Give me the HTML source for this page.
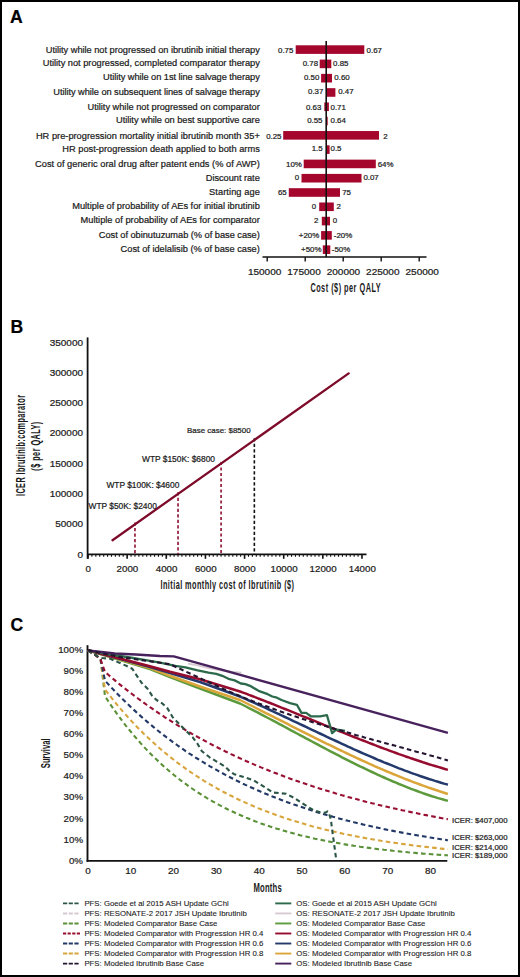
<!DOCTYPE html>
<html><head><meta charset="utf-8"><style>
html,body{margin:0;padding:0;background:#fff;}
body{width:520px;height:977px;overflow:hidden;}
svg{display:block;font-family:"Liberation Sans", sans-serif;}
text{stroke:#1a1a1a;stroke-width:0.22px;paint-order:stroke;}
</style></head><body>
<svg width="520" height="977" viewBox="0 0 520 977">
<rect x="0" y="0" width="520" height="977" fill="#fff"/>
<rect x="1" y="1" width="518" height="975" fill="none" stroke="#000" stroke-width="2"/>

<text x="10.0" y="23.4" font-size="17.6" font-weight="bold" fill="#000">A</text>
<text x="10.5" y="333.3" font-size="17.6" font-weight="bold" fill="#000">B</text>
<text x="10.5" y="630.7" font-size="17.6" font-weight="bold" fill="#000">C</text>
<rect x="295.7" y="45.30" width="68.60" height="8.6" fill="#a5062c"/>
<text x="259.8" y="53.00" font-size="9.25" fill="#1a1a1a" text-anchor="end" textLength="214.01" lengthAdjust="spacing">Utility while not progressed on ibrutinib initial therapy</text>
<text x="293.4" y="52.80" font-size="7.9" fill="#1a1a1a" text-anchor="end">0.75</text>
<text x="366.6" y="52.80" font-size="7.9" fill="#1a1a1a">0.67</text>
<rect x="319.7" y="59.59" width="11.60" height="8.6" fill="#a5062c"/>
<text x="259.8" y="65.95" font-size="9.25" fill="#1a1a1a" text-anchor="end" textLength="217.06" lengthAdjust="spacing">Utility not progressed, completed comparator therapy</text>
<text x="318.1" y="65.75" font-size="7.9" fill="#1a1a1a" text-anchor="end">0.78</text>
<text x="333.1" y="65.75" font-size="7.9" fill="#1a1a1a">0.85</text>
<rect x="321.1" y="73.88" width="10.90" height="8.6" fill="#a5062c"/>
<text x="259.8" y="79.85" font-size="9.25" fill="#1a1a1a" text-anchor="end" textLength="156.75" lengthAdjust="spacing">Utility while on 1st line salvage therapy</text>
<text x="319.3" y="79.65" font-size="7.9" fill="#1a1a1a" text-anchor="end">0.50</text>
<text x="334.3" y="79.65" font-size="7.9" fill="#1a1a1a">0.60</text>
<rect x="326.2" y="88.17" width="9.20" height="8.6" fill="#a5062c"/>
<text x="259.8" y="94.60" font-size="9.25" fill="#1a1a1a" text-anchor="end" textLength="206.46" lengthAdjust="spacing">Utility while on subsequent lines of salvage therapy</text>
<text x="323.4" y="94.40" font-size="7.9" fill="#1a1a1a" text-anchor="end">0.37</text>
<text x="338.2" y="94.40" font-size="7.9" fill="#1a1a1a">0.47</text>
<rect x="324.3" y="102.46" width="4.60" height="8.6" fill="#a5062c"/>
<text x="259.8" y="109.70" font-size="9.25" fill="#1a1a1a" text-anchor="end" textLength="172.33" lengthAdjust="spacing">Utility while not progressed on comparator</text>
<text x="321.3" y="109.50" font-size="7.9" fill="#1a1a1a" text-anchor="end">0.63</text>
<text x="330.5" y="109.50" font-size="7.9" fill="#1a1a1a">0.71</text>
<rect x="325.9" y="116.75" width="1.80" height="8.6" fill="#a5062c"/>
<text x="259.8" y="123.30" font-size="9.25" fill="#1a1a1a" text-anchor="end" textLength="143.68" lengthAdjust="spacing">Utility while on best supportive care</text>
<text x="322.5" y="123.10" font-size="7.9" fill="#1a1a1a" text-anchor="end">0.55</text>
<text x="330.5" y="123.10" font-size="7.9" fill="#1a1a1a">0.64</text>
<rect x="283.2" y="131.04" width="95.80" height="8.6" fill="#a5062c"/>
<text x="259.8" y="139.05" font-size="9.25" fill="#1a1a1a" text-anchor="end" textLength="223.87" lengthAdjust="spacing">HR pre-progression mortality initial ibrutinib month 35+</text>
<text x="281.5" y="138.85" font-size="7.9" fill="#1a1a1a" text-anchor="end">0.25</text>
<text x="383.2" y="138.85" font-size="7.9" fill="#1a1a1a">2</text>
<rect x="326.4" y="145.33" width="3.20" height="8.6" fill="#a5062c"/>
<text x="259.8" y="151.50" font-size="9.25" fill="#1a1a1a" text-anchor="end" textLength="197.52" lengthAdjust="spacing">HR post-progression death applied to both arms</text>
<text x="322.7" y="151.30" font-size="7.9" fill="#1a1a1a" text-anchor="end">1.5</text>
<text x="330.5" y="151.30" font-size="7.9" fill="#1a1a1a">0.5</text>
<rect x="303.7" y="159.62" width="72.10" height="8.6" fill="#a5062c"/>
<text x="259.8" y="167.25" font-size="9.25" fill="#1a1a1a" text-anchor="end" textLength="224.8" lengthAdjust="spacing">Cost of generic oral drug after patent ends (% of AWP)</text>
<text x="301.8" y="167.05" font-size="7.9" fill="#1a1a1a" text-anchor="end">10%</text>
<text x="377.7" y="167.05" font-size="7.9" fill="#1a1a1a">64%</text>
<rect x="301.5" y="173.91" width="60.00" height="8.6" fill="#a5062c"/>
<text x="259.8" y="180.50" font-size="9.25" fill="#1a1a1a" text-anchor="end" textLength="53.99" lengthAdjust="spacing">Discount rate</text>
<text x="299.1" y="180.30" font-size="7.9" fill="#1a1a1a" text-anchor="end">0</text>
<text x="363.4" y="180.30" font-size="7.9" fill="#1a1a1a">0.07</text>
<rect x="288.8" y="188.20" width="51.20" height="8.6" fill="#a5062c"/>
<text x="259.8" y="195.20" font-size="9.25" fill="#1a1a1a" text-anchor="end" textLength="50.69" lengthAdjust="spacing">Starting age</text>
<text x="286.7" y="195.00" font-size="7.9" fill="#1a1a1a" text-anchor="end">65</text>
<text x="342.2" y="195.00" font-size="7.9" fill="#1a1a1a">75</text>
<rect x="319.2" y="202.49" width="14.60" height="8.6" fill="#a5062c"/>
<text x="259.8" y="208.90" font-size="9.25" fill="#1a1a1a" text-anchor="end" textLength="187.56" lengthAdjust="spacing">Multiple of probability of AEs for initial ibrutinib</text>
<text x="316.2" y="208.70" font-size="7.9" fill="#1a1a1a" text-anchor="end">0</text>
<text x="336.6" y="208.70" font-size="7.9" fill="#1a1a1a">2</text>
<rect x="321.8" y="216.78" width="8.20" height="8.6" fill="#a5062c"/>
<text x="259.8" y="223.40" font-size="9.25" fill="#1a1a1a" text-anchor="end" textLength="179.21" lengthAdjust="spacing">Multiple of probability of AEs for comparator</text>
<text x="318.5" y="223.20" font-size="7.9" fill="#1a1a1a" text-anchor="end">2</text>
<text x="332.8" y="223.20" font-size="7.9" fill="#1a1a1a">0</text>
<rect x="321.1" y="231.07" width="10.70" height="8.6" fill="#a5062c"/>
<text x="259.8" y="238.10" font-size="9.25" fill="#1a1a1a" text-anchor="end" textLength="160.95" lengthAdjust="spacing">Cost of obinutuzumab (% of base case)</text>
<text x="319.2" y="237.90" font-size="7.9" fill="#1a1a1a" text-anchor="end">+20%</text>
<text x="333.8" y="237.90" font-size="7.9" fill="#1a1a1a">-20%</text>
<rect x="322.8" y="245.36" width="7.50" height="8.6" fill="#a5062c"/>
<text x="259.8" y="252.40" font-size="9.25" fill="#1a1a1a" text-anchor="end" textLength="139.22" lengthAdjust="spacing">Cost of idelalisib (% of base case)</text>
<text x="321.5" y="252.20" font-size="7.9" fill="#1a1a1a" text-anchor="end">+50%</text>
<text x="331.8" y="252.20" font-size="7.9" fill="#1a1a1a">-50%</text>
<line x1="326.2" y1="41" x2="326.2" y2="257" stroke="#111" stroke-width="1.6"/>
<line x1="262.5" y1="257" x2="426.5" y2="257" stroke="#111" stroke-width="1.7"/>
<line x1="267.2" y1="257" x2="267.2" y2="261.5" stroke="#111" stroke-width="1.4"/>
<text transform="translate(264.60,274.90) scale(1.08,1)" font-size="9.3" fill="#1a1a1a" text-anchor="middle">150000</text>
<line x1="305.2" y1="257" x2="305.2" y2="261.5" stroke="#111" stroke-width="1.4"/>
<text transform="translate(304.00,274.90) scale(1.08,1)" font-size="9.3" fill="#1a1a1a" text-anchor="middle">175000</text>
<line x1="343.2" y1="257" x2="343.2" y2="261.5" stroke="#111" stroke-width="1.4"/>
<text transform="translate(343.40,274.90) scale(1.08,1)" font-size="9.3" fill="#1a1a1a" text-anchor="middle">200000</text>
<line x1="381.2" y1="257" x2="381.2" y2="261.5" stroke="#111" stroke-width="1.4"/>
<text transform="translate(382.80,274.90) scale(1.08,1)" font-size="9.3" fill="#1a1a1a" text-anchor="middle">225000</text>
<line x1="419.2" y1="257" x2="419.2" y2="261.5" stroke="#111" stroke-width="1.4"/>
<text transform="translate(422.20,274.90) scale(1.08,1)" font-size="9.3" fill="#1a1a1a" text-anchor="middle">250000</text>
<text transform="translate(310.4,291.7) scale(0.6,1)" font-size="12.2" font-weight="bold" fill="#1a1a1a" text-anchor="start" style="stroke-width:0" textLength="117.00" lengthAdjust="spacing">Cost ($) per QALY</text>
<line x1="87.6" y1="337.4" x2="87.6" y2="558.8" stroke="#111" stroke-width="1.8"/>
<text transform="translate(83.00,557.60) scale(1.04,1)" font-size="9.6" fill="#1a1a1a" text-anchor="end">0</text>
<text transform="translate(83.00,527.30) scale(1.04,1)" font-size="9.6" fill="#1a1a1a" text-anchor="end">50000</text>
<text transform="translate(83.00,497.00) scale(1.04,1)" font-size="9.6" fill="#1a1a1a" text-anchor="end">100000</text>
<text transform="translate(83.00,466.70) scale(1.04,1)" font-size="9.6" fill="#1a1a1a" text-anchor="end">150000</text>
<text transform="translate(83.00,436.40) scale(1.04,1)" font-size="9.6" fill="#1a1a1a" text-anchor="end">200000</text>
<text transform="translate(83.00,406.10) scale(1.04,1)" font-size="9.6" fill="#1a1a1a" text-anchor="end">250000</text>
<text transform="translate(83.00,375.80) scale(1.04,1)" font-size="9.6" fill="#1a1a1a" text-anchor="end">300000</text>
<text transform="translate(83.00,345.50) scale(1.04,1)" font-size="9.6" fill="#1a1a1a" text-anchor="end">350000</text>
<line x1="87" y1="554.4" x2="366.5" y2="554.4" stroke="#111" stroke-width="1.8"/>
<line x1="88.00" y1="554" x2="88.00" y2="558.8" stroke="#111" stroke-width="1.6"/>
<text transform="translate(88.30,571.80) scale(1.06,1)" font-size="9.2" fill="#1a1a1a" text-anchor="middle">0</text>
<line x1="91.91" y1="554" x2="91.91" y2="556.8" stroke="#111" stroke-width="1.1"/>
<line x1="95.83" y1="554" x2="95.83" y2="556.8" stroke="#111" stroke-width="1.1"/>
<line x1="99.74" y1="554" x2="99.74" y2="556.8" stroke="#111" stroke-width="1.1"/>
<line x1="103.66" y1="554" x2="103.66" y2="556.8" stroke="#111" stroke-width="1.1"/>
<line x1="107.57" y1="554" x2="107.57" y2="556.8" stroke="#111" stroke-width="1.1"/>
<line x1="111.49" y1="554" x2="111.49" y2="556.8" stroke="#111" stroke-width="1.1"/>
<line x1="115.40" y1="554" x2="115.40" y2="556.8" stroke="#111" stroke-width="1.1"/>
<line x1="119.31" y1="554" x2="119.31" y2="556.8" stroke="#111" stroke-width="1.1"/>
<line x1="123.23" y1="554" x2="123.23" y2="556.8" stroke="#111" stroke-width="1.1"/>
<line x1="127.14" y1="554" x2="127.14" y2="558.8" stroke="#111" stroke-width="1.6"/>
<text transform="translate(127.44,571.80) scale(1.06,1)" font-size="9.2" fill="#1a1a1a" text-anchor="middle">2000</text>
<line x1="131.06" y1="554" x2="131.06" y2="556.8" stroke="#111" stroke-width="1.1"/>
<line x1="134.97" y1="554" x2="134.97" y2="556.8" stroke="#111" stroke-width="1.1"/>
<line x1="138.88" y1="554" x2="138.88" y2="556.8" stroke="#111" stroke-width="1.1"/>
<line x1="142.80" y1="554" x2="142.80" y2="556.8" stroke="#111" stroke-width="1.1"/>
<line x1="146.71" y1="554" x2="146.71" y2="556.8" stroke="#111" stroke-width="1.1"/>
<line x1="150.63" y1="554" x2="150.63" y2="556.8" stroke="#111" stroke-width="1.1"/>
<line x1="154.54" y1="554" x2="154.54" y2="556.8" stroke="#111" stroke-width="1.1"/>
<line x1="158.46" y1="554" x2="158.46" y2="556.8" stroke="#111" stroke-width="1.1"/>
<line x1="162.37" y1="554" x2="162.37" y2="556.8" stroke="#111" stroke-width="1.1"/>
<line x1="166.28" y1="554" x2="166.28" y2="558.8" stroke="#111" stroke-width="1.6"/>
<text transform="translate(166.58,571.80) scale(1.06,1)" font-size="9.2" fill="#1a1a1a" text-anchor="middle">4000</text>
<line x1="170.20" y1="554" x2="170.20" y2="556.8" stroke="#111" stroke-width="1.1"/>
<line x1="174.11" y1="554" x2="174.11" y2="556.8" stroke="#111" stroke-width="1.1"/>
<line x1="178.03" y1="554" x2="178.03" y2="556.8" stroke="#111" stroke-width="1.1"/>
<line x1="181.94" y1="554" x2="181.94" y2="556.8" stroke="#111" stroke-width="1.1"/>
<line x1="185.86" y1="554" x2="185.86" y2="556.8" stroke="#111" stroke-width="1.1"/>
<line x1="189.77" y1="554" x2="189.77" y2="556.8" stroke="#111" stroke-width="1.1"/>
<line x1="193.68" y1="554" x2="193.68" y2="556.8" stroke="#111" stroke-width="1.1"/>
<line x1="197.60" y1="554" x2="197.60" y2="556.8" stroke="#111" stroke-width="1.1"/>
<line x1="201.51" y1="554" x2="201.51" y2="556.8" stroke="#111" stroke-width="1.1"/>
<line x1="205.43" y1="554" x2="205.43" y2="558.8" stroke="#111" stroke-width="1.6"/>
<text transform="translate(205.73,571.80) scale(1.06,1)" font-size="9.2" fill="#1a1a1a" text-anchor="middle">6000</text>
<line x1="209.34" y1="554" x2="209.34" y2="556.8" stroke="#111" stroke-width="1.1"/>
<line x1="213.25" y1="554" x2="213.25" y2="556.8" stroke="#111" stroke-width="1.1"/>
<line x1="217.17" y1="554" x2="217.17" y2="556.8" stroke="#111" stroke-width="1.1"/>
<line x1="221.08" y1="554" x2="221.08" y2="556.8" stroke="#111" stroke-width="1.1"/>
<line x1="225.00" y1="554" x2="225.00" y2="556.8" stroke="#111" stroke-width="1.1"/>
<line x1="228.91" y1="554" x2="228.91" y2="556.8" stroke="#111" stroke-width="1.1"/>
<line x1="232.83" y1="554" x2="232.83" y2="556.8" stroke="#111" stroke-width="1.1"/>
<line x1="236.74" y1="554" x2="236.74" y2="556.8" stroke="#111" stroke-width="1.1"/>
<line x1="240.65" y1="554" x2="240.65" y2="556.8" stroke="#111" stroke-width="1.1"/>
<line x1="244.57" y1="554" x2="244.57" y2="558.8" stroke="#111" stroke-width="1.6"/>
<text transform="translate(244.87,571.80) scale(1.06,1)" font-size="9.2" fill="#1a1a1a" text-anchor="middle">8000</text>
<line x1="248.48" y1="554" x2="248.48" y2="556.8" stroke="#111" stroke-width="1.1"/>
<line x1="252.40" y1="554" x2="252.40" y2="556.8" stroke="#111" stroke-width="1.1"/>
<line x1="256.31" y1="554" x2="256.31" y2="556.8" stroke="#111" stroke-width="1.1"/>
<line x1="260.22" y1="554" x2="260.22" y2="556.8" stroke="#111" stroke-width="1.1"/>
<line x1="264.14" y1="554" x2="264.14" y2="556.8" stroke="#111" stroke-width="1.1"/>
<line x1="268.05" y1="554" x2="268.05" y2="556.8" stroke="#111" stroke-width="1.1"/>
<line x1="271.97" y1="554" x2="271.97" y2="556.8" stroke="#111" stroke-width="1.1"/>
<line x1="275.88" y1="554" x2="275.88" y2="556.8" stroke="#111" stroke-width="1.1"/>
<line x1="279.80" y1="554" x2="279.80" y2="556.8" stroke="#111" stroke-width="1.1"/>
<line x1="283.71" y1="554" x2="283.71" y2="558.8" stroke="#111" stroke-width="1.6"/>
<text transform="translate(284.01,571.80) scale(1.06,1)" font-size="9.2" fill="#1a1a1a" text-anchor="middle">10000</text>
<line x1="287.62" y1="554" x2="287.62" y2="556.8" stroke="#111" stroke-width="1.1"/>
<line x1="291.54" y1="554" x2="291.54" y2="556.8" stroke="#111" stroke-width="1.1"/>
<line x1="295.45" y1="554" x2="295.45" y2="556.8" stroke="#111" stroke-width="1.1"/>
<line x1="299.37" y1="554" x2="299.37" y2="556.8" stroke="#111" stroke-width="1.1"/>
<line x1="303.28" y1="554" x2="303.28" y2="556.8" stroke="#111" stroke-width="1.1"/>
<line x1="307.20" y1="554" x2="307.20" y2="556.8" stroke="#111" stroke-width="1.1"/>
<line x1="311.11" y1="554" x2="311.11" y2="556.8" stroke="#111" stroke-width="1.1"/>
<line x1="315.02" y1="554" x2="315.02" y2="556.8" stroke="#111" stroke-width="1.1"/>
<line x1="318.94" y1="554" x2="318.94" y2="556.8" stroke="#111" stroke-width="1.1"/>
<line x1="322.85" y1="554" x2="322.85" y2="558.8" stroke="#111" stroke-width="1.6"/>
<text transform="translate(323.15,571.80) scale(1.06,1)" font-size="9.2" fill="#1a1a1a" text-anchor="middle">12000</text>
<line x1="326.77" y1="554" x2="326.77" y2="556.8" stroke="#111" stroke-width="1.1"/>
<line x1="330.68" y1="554" x2="330.68" y2="556.8" stroke="#111" stroke-width="1.1"/>
<line x1="334.59" y1="554" x2="334.59" y2="556.8" stroke="#111" stroke-width="1.1"/>
<line x1="338.51" y1="554" x2="338.51" y2="556.8" stroke="#111" stroke-width="1.1"/>
<line x1="342.42" y1="554" x2="342.42" y2="556.8" stroke="#111" stroke-width="1.1"/>
<line x1="346.34" y1="554" x2="346.34" y2="556.8" stroke="#111" stroke-width="1.1"/>
<line x1="350.25" y1="554" x2="350.25" y2="556.8" stroke="#111" stroke-width="1.1"/>
<line x1="354.17" y1="554" x2="354.17" y2="556.8" stroke="#111" stroke-width="1.1"/>
<line x1="358.08" y1="554" x2="358.08" y2="556.8" stroke="#111" stroke-width="1.1"/>
<line x1="361.99" y1="554" x2="361.99" y2="558.8" stroke="#111" stroke-width="1.6"/>
<text transform="translate(362.29,571.80) scale(1.06,1)" font-size="9.2" fill="#1a1a1a" text-anchor="middle">14000</text>
<line x1="134.97" y1="522.50" x2="134.97" y2="554" stroke="#8e1030" stroke-width="1.6" stroke-dasharray="3.2,2.3"/>
<line x1="178.03" y1="492.20" x2="178.03" y2="554" stroke="#8e1030" stroke-width="1.6" stroke-dasharray="3.2,2.3"/>
<line x1="221.08" y1="461.90" x2="221.08" y2="554" stroke="#8e1030" stroke-width="1.6" stroke-dasharray="3.2,2.3"/>
<line x1="254.35" y1="438.27" x2="254.35" y2="554" stroke="#111" stroke-width="1.6" stroke-dasharray="3.2,2.3"/>
<line x1="112.5" y1="540.2" x2="348.7" y2="373.4" stroke="#7d0b29" stroke-width="2.3" stroke-linecap="round"/>
<text x="187" y="433.3" font-size="7.95" fill="#1a1a1a">Base case: &#36;8500</text>
<text x="142" y="461.8" font-size="8.4" fill="#1a1a1a">WTP &#36;150K: &#36;6800</text>
<text x="106.4" y="488.1" font-size="8.4" fill="#1a1a1a">WTP &#36;100K: &#36;4600</text>
<text x="88.5" y="509.3" font-size="8.4" fill="#1a1a1a">WTP &#36;50K: &#36;2400</text>
<text transform="translate(25.3,445.5) rotate(-90) scale(0.6,1)" font-size="12.2" font-weight="bold" fill="#1a1a1a" text-anchor="middle" style="stroke-width:0" textLength="168.33" lengthAdjust="spacing">ICER Ibrutinib:comparator</text>
<text transform="translate(40.0,446.2) rotate(-90) scale(0.6,1)" font-size="12.2" font-weight="bold" fill="#1a1a1a" text-anchor="middle" style="stroke-width:0" textLength="81.67" lengthAdjust="spacing">(&#36; per QALY)</text>
<text transform="translate(160.5,589.1) scale(0.6,1)" font-size="12.2" font-weight="bold" fill="#1a1a1a" text-anchor="start" style="stroke-width:0" textLength="222.50" lengthAdjust="spacing">Initial monthly cost of Ibrutinib (&#36;)</text>
<line x1="87.5" y1="645.2" x2="87.5" y2="861.8" stroke="#111" stroke-width="1.9"/>
<line x1="86.6" y1="860.9" x2="447.3" y2="860.9" stroke="#111" stroke-width="1.9"/>
<text x="83" y="863.60" font-size="9.7" fill="#1a1a1a" text-anchor="end">0%</text>
<text x="83" y="842.55" font-size="9.7" fill="#1a1a1a" text-anchor="end">10%</text>
<text x="83" y="821.50" font-size="9.7" fill="#1a1a1a" text-anchor="end">20%</text>
<text x="83" y="800.45" font-size="9.7" fill="#1a1a1a" text-anchor="end">30%</text>
<text x="83" y="779.40" font-size="9.7" fill="#1a1a1a" text-anchor="end">40%</text>
<text x="83" y="758.35" font-size="9.7" fill="#1a1a1a" text-anchor="end">50%</text>
<text x="83" y="737.30" font-size="9.7" fill="#1a1a1a" text-anchor="end">60%</text>
<text x="83" y="716.25" font-size="9.7" fill="#1a1a1a" text-anchor="end">70%</text>
<text x="83" y="695.20" font-size="9.7" fill="#1a1a1a" text-anchor="end">80%</text>
<text x="83" y="674.15" font-size="9.7" fill="#1a1a1a" text-anchor="end">90%</text>
<text x="83" y="653.10" font-size="9.7" fill="#1a1a1a" text-anchor="end">100%</text>
<text x="87.90" y="874.4" font-size="9.9" fill="#1a1a1a" text-anchor="middle">0</text>
<text x="130.72" y="874.4" font-size="9.9" fill="#1a1a1a" text-anchor="middle">10</text>
<text x="173.55" y="874.4" font-size="9.9" fill="#1a1a1a" text-anchor="middle">20</text>
<text x="216.38" y="874.4" font-size="9.9" fill="#1a1a1a" text-anchor="middle">30</text>
<text x="259.20" y="874.4" font-size="9.9" fill="#1a1a1a" text-anchor="middle">40</text>
<text x="302.02" y="874.4" font-size="9.9" fill="#1a1a1a" text-anchor="middle">50</text>
<text x="344.85" y="874.4" font-size="9.9" fill="#1a1a1a" text-anchor="middle">60</text>
<text x="387.67" y="874.4" font-size="9.9" fill="#1a1a1a" text-anchor="middle">70</text>
<text x="430.50" y="874.4" font-size="9.9" fill="#1a1a1a" text-anchor="middle">80</text>
<text transform="translate(253.5,891.7) scale(0.6,1)" font-size="12.8" font-weight="bold" fill="#1a1a1a" text-anchor="start" style="stroke-width:0" textLength="47.00" lengthAdjust="spacing">Months</text>
<text transform="translate(50.3,768.2) rotate(-90) scale(0.6,1)" font-size="12.8" font-weight="bold" fill="#1a1a1a" text-anchor="start" style="stroke-width:0" textLength="49.67" lengthAdjust="spacing">Survival</text>
<polyline points="188.0,663.6 197.7,665.4 207.5,667.9 216.2,669.5 232.5,671.8 241.5,672.6" fill="none" stroke="#d6c9d1" stroke-width="1.8" stroke-linejoin="round" opacity="1"/>
<polyline points="87.9,650.3 150.0,669.0 170.0,677.0 200.0,688.5 240.0,703.5 243.0,705.0 246.0,706.5 249.0,708.1 252.0,709.6 255.0,711.2 258.0,712.7 261.0,714.3 264.0,715.9 267.0,717.5 270.0,719.0 273.0,720.6 276.0,722.2 279.0,723.8 282.0,725.4 285.0,727.0 288.0,728.7 291.0,730.3 294.0,731.9 297.0,733.5 300.0,735.1 303.0,736.7 306.0,738.3 309.0,739.9 312.0,741.5 315.0,743.1 318.0,744.7 321.0,746.3 324.0,747.9 327.0,749.5 330.0,751.1 333.0,752.6 336.0,754.2 339.0,755.7 342.0,757.3 345.0,758.8 348.0,760.3 351.0,761.8 354.0,763.3 357.0,764.8 360.0,766.3 363.0,767.7 366.0,769.2 369.0,770.6 372.0,772.0 375.0,773.4 378.0,774.8 381.0,776.2 384.0,777.5 387.0,778.9 390.0,780.2 393.0,781.5 396.0,782.7 399.0,784.0 402.0,785.2 405.0,786.4 408.0,787.6 411.0,788.8 414.0,789.9 417.0,791.0 420.0,792.1 423.0,793.2 426.0,794.2 429.0,795.2 432.0,796.2 435.0,797.1 438.0,798.1 441.0,798.9 444.0,799.8 447.0,800.6 447.9,800.9" fill="none" stroke="#5c9a3c" stroke-width="2.5" stroke-linejoin="round" opacity="1"/>
<polyline points="87.9,650.3 150.0,668.0 170.0,675.8 200.0,686.5 240.0,700.0 243.0,701.5 246.0,703.0 249.0,704.5 252.0,706.0 255.0,707.5 258.0,709.0 261.0,710.6 264.0,712.1 267.0,713.6 270.0,715.1 273.0,716.6 276.0,718.2 279.0,719.7 282.0,721.2 285.0,722.7 288.0,724.2 291.0,725.8 294.0,727.3 297.0,728.8 300.0,730.3 303.0,731.8 306.0,733.3 309.0,734.8 312.0,736.3 315.0,737.8 318.0,739.3 321.0,740.8 324.0,742.3 327.0,743.8 330.0,745.2 333.0,746.7 336.0,748.2 339.0,749.6 342.0,751.0 345.0,752.5 348.0,753.9 351.0,755.3 354.0,756.7 357.0,758.1 360.0,759.5 363.0,760.9 366.0,762.2 369.0,763.6 372.0,764.9 375.0,766.3 378.0,767.6 381.0,768.9 384.0,770.2 387.0,771.5 390.0,772.7 393.0,774.0 396.0,775.2 399.0,776.4 402.0,777.6 405.0,778.8 408.0,780.0 411.0,781.2 414.0,782.3 417.0,783.4 420.0,784.5 423.0,785.6 426.0,786.7 429.0,787.8 432.0,788.8 435.0,789.8 438.0,790.8 441.0,791.8 444.0,792.7 447.0,793.7 447.9,794.0" fill="none" stroke="#dba53a" stroke-width="2.5" stroke-linejoin="round" opacity="1"/>
<polyline points="87.9,650.3 150.0,667.0 200.0,682.0 240.0,696.5 243.0,697.8 246.0,699.1 249.0,700.5 252.0,701.8 255.0,703.1 258.0,704.5 261.0,705.9 264.0,707.2 267.0,708.6 270.0,710.0 273.0,711.4 276.0,712.8 279.0,714.2 282.0,715.6 285.0,717.0 288.0,718.4 291.0,719.8 294.0,721.3 297.0,722.7 300.0,724.1 303.0,725.5 306.0,726.9 309.0,728.4 312.0,729.8 315.0,731.2 318.0,732.6 321.0,734.0 324.0,735.4 327.0,736.9 330.0,738.3 333.0,739.7 336.0,741.0 339.0,742.4 342.0,743.8 345.0,745.2 348.0,746.6 351.0,747.9 354.0,749.3 357.0,750.6 360.0,752.0 363.0,753.3 366.0,754.6 369.0,755.9 372.0,757.2 375.0,758.5 378.0,759.8 381.0,761.0 384.0,762.3 387.0,763.5 390.0,764.7 393.0,765.9 396.0,767.1 399.0,768.3 402.0,769.4 405.0,770.6 408.0,771.7 411.0,772.8 414.0,773.9 417.0,774.9 420.0,776.0 423.0,777.0 426.0,778.0 429.0,779.0 432.0,779.9 435.0,780.9 438.0,781.8 441.0,782.7 444.0,783.6 447.0,784.4 447.9,784.7" fill="none" stroke="#243a6c" stroke-width="2.5" stroke-linejoin="round" opacity="1"/>
<polyline points="87.9,650.3 150.0,666.2 170.0,671.7 200.0,679.2 240.0,691.5 243.0,692.6 246.0,693.7 249.0,694.9 252.0,696.0 255.0,697.2 258.0,698.3 261.0,699.5 264.0,700.6 267.0,701.8 270.0,703.0 273.0,704.2 276.0,705.4 279.0,706.6 282.0,707.8 285.0,709.0 288.0,710.2 291.0,711.4 294.0,712.6 297.0,713.8 300.0,715.1 303.0,716.3 306.0,717.5 309.0,718.7 312.0,720.0 315.0,721.2 318.0,722.4 321.0,723.6 324.0,724.9 327.0,726.1 330.0,727.3 333.0,728.5 336.0,729.7 339.0,731.0 342.0,732.2 345.0,733.4 348.0,734.6 351.0,735.8 354.0,737.0 357.0,738.2 360.0,739.4 363.0,740.5 366.0,741.7 369.0,742.9 372.0,744.0 375.0,745.2 378.0,746.3 381.0,747.5 384.0,748.6 387.0,749.7 390.0,750.8 393.0,751.9 396.0,753.0 399.0,754.1 402.0,755.1 405.0,756.2 408.0,757.2 411.0,758.3 414.0,759.3 417.0,760.3 420.0,761.3 423.0,762.3 426.0,763.2 429.0,764.2 432.0,765.1 435.0,766.0 438.0,766.9 441.0,767.8 444.0,768.7 447.0,769.6 447.9,769.8" fill="none" stroke="#960c2e" stroke-width="2.5" stroke-linejoin="round" opacity="1"/>
<polyline points="87.9,650.3 110.0,654.5 130.0,657.5 150.0,660.8 160.0,662.7 175.4,665.8 185.4,667.3 197.7,670.4 208.5,672.7 216.2,673.8 222.3,675.8 228.5,678.8 234.6,680.4 240.8,683.5 245.4,684.2 250.0,685.8 258.5,690.8 267.7,694.2 272.3,696.5 276.9,697.7 281.5,700.0 290.0,703.1 296.9,704.8 301.5,712.9 306.1,712.9 310.8,716.3 320.0,716.3 326.9,715.2 329.8,725.0 332.1,733.1 336.1,729.6 340.7,730.2 345.0,731.0" fill="none" stroke="#2d6a4c" stroke-width="2.3" stroke-linejoin="round" opacity="1"/>
<polyline points="87.9,650.3 114.8,653.5 136.0,654.5 160.0,656.0 173.8,656.4 447.9,732.8" fill="none" stroke="#47225d" stroke-width="2.3" stroke-linejoin="round" opacity="1"/>
<polyline points="87.9,650.3 96.0,655.5 100.6,659.5 105.0,696.2 108.0,700.8 111.0,705.3 114.0,709.6 117.0,713.8 120.0,717.9 123.0,721.9 126.0,725.8 129.0,729.5 132.0,733.2 135.0,736.8 138.0,740.2 141.0,743.6 144.0,746.9 147.0,750.1 150.0,753.2 153.0,756.2 156.0,759.1 159.0,761.9 162.0,764.7 165.0,767.4 168.0,770.0 171.0,772.6 174.0,775.0 177.0,777.4 180.0,779.8 183.0,782.0 186.0,784.2 189.0,786.4 192.0,788.5 195.0,790.5 198.0,792.5 201.0,794.4 204.0,796.3 207.0,798.1 210.0,799.8 213.0,801.6 216.0,803.2 219.0,804.9 222.0,806.4 225.0,808.0 228.0,809.5 231.0,810.9 234.0,812.3 237.0,813.7 240.0,815.0 243.0,816.3 246.0,817.6 249.0,818.8 252.0,820.0 255.0,821.2 258.0,822.3 261.0,823.4 264.0,824.4 267.0,825.5 270.0,826.5 273.0,827.5 276.0,828.4 279.0,829.3 282.0,830.2 285.0,831.1 288.0,832.0 291.0,832.8 294.0,833.6 297.0,834.4 300.0,835.2 303.0,835.9 306.0,836.6 309.0,837.3 312.0,838.0 315.0,838.7 318.0,839.3 321.0,839.9 324.0,840.5 327.0,841.1 330.0,841.7 333.0,842.3 336.0,842.8 339.0,843.3 342.0,843.9 345.0,844.4 348.0,844.9 351.0,845.3 354.0,845.8 357.0,846.2 360.0,846.7 363.0,847.1 366.0,847.5 369.0,847.9 372.0,848.3 375.0,848.7 378.0,849.1 381.0,849.4 384.0,849.8 387.0,850.1 390.0,850.4 393.0,850.8 396.0,851.1 399.0,851.4 402.0,851.7 405.0,852.0 408.0,852.3 411.0,852.5 414.0,852.8 417.0,853.1 420.0,853.3 423.0,853.6 426.0,853.8 429.0,854.0 432.0,854.3 435.0,854.5 438.0,854.7 441.0,854.9 444.0,855.1 447.0,855.3 447.9,855.4" fill="none" stroke="#5a9138" stroke-width="2.1" stroke-dasharray="4.6,3.2" stroke-linejoin="round" opacity="1"/>
<polyline points="87.9,650.3 96.0,655.5 100.6,659.5 105.0,689.5 108.0,693.4 111.0,697.2 114.0,701.0 117.0,704.6 120.0,708.2 123.0,711.6 126.0,715.0 129.0,718.3 132.0,721.6 135.0,724.8 138.0,727.9 141.0,730.9 144.0,733.9 147.0,736.7 150.0,739.6 153.0,742.3 156.0,745.0 159.0,747.7 162.0,750.3 165.0,752.8 168.0,755.2 171.0,757.6 174.0,760.0 177.0,762.3 180.0,764.5 183.0,766.7 186.0,768.9 189.0,771.0 192.0,773.0 195.0,775.0 198.0,777.0 201.0,778.9 204.0,780.8 207.0,782.6 210.0,784.4 213.0,786.1 216.0,787.8 219.0,789.5 222.0,791.1 225.0,792.7 228.0,794.3 231.0,795.8 234.0,797.3 237.0,798.8 240.0,800.2 243.0,801.6 246.0,802.9 249.0,804.3 252.0,805.5 255.0,806.8 258.0,808.1 261.0,809.3 264.0,810.5 267.0,811.6 270.0,812.7 273.0,813.8 276.0,814.9 279.0,816.0 282.0,817.0 285.0,818.0 288.0,819.0 291.0,820.0 294.0,820.9 297.0,821.8 300.0,822.7 303.0,823.6 306.0,824.5 309.0,825.3 312.0,826.2 315.0,827.0 318.0,827.7 321.0,828.5 324.0,829.3 327.0,830.0 330.0,830.7 333.0,831.4 336.0,832.1 339.0,832.8 342.0,833.4 345.0,834.1 348.0,834.7 351.0,835.3 354.0,835.9 357.0,836.5 360.0,837.1 363.0,837.6 366.0,838.2 369.0,838.7 372.0,839.2 375.0,839.8 378.0,840.3 381.0,840.8 384.0,841.2 387.0,841.7 390.0,842.2 393.0,842.6 396.0,843.0 399.0,843.5 402.0,843.9 405.0,844.3 408.0,844.7 411.0,845.1 414.0,845.5 417.0,845.9 420.0,846.2 423.0,846.6 426.0,846.9 429.0,847.3 432.0,847.6 435.0,847.9 438.0,848.3 441.0,848.6 444.0,848.9 447.0,849.2 447.9,849.3" fill="none" stroke="#d8a53c" stroke-width="2.1" stroke-dasharray="4.6,3.2" stroke-linejoin="round" opacity="1"/>
<polyline points="87.9,650.3 96.0,655.5 100.6,659.5 105.0,680.6 108.0,683.9 111.0,687.1 114.0,690.3 117.0,693.4 120.0,696.5 123.0,699.5 126.0,702.4 129.0,705.3 132.0,708.2 135.0,710.9 138.0,713.7 141.0,716.4 144.0,719.0 147.0,721.6 150.0,724.1 153.0,726.6 156.0,729.1 159.0,731.5 162.0,733.9 165.0,736.2 168.0,738.4 171.0,740.7 174.0,742.9 177.0,745.0 180.0,747.1 183.0,749.2 186.0,751.3 189.0,753.3 192.0,755.2 195.0,757.2 198.0,759.0 201.0,760.9 204.0,762.7 207.0,764.5 210.0,766.3 213.0,768.0 216.0,769.7 219.0,771.4 222.0,773.0 225.0,774.6 228.0,776.2 231.0,777.7 234.0,779.3 237.0,780.8 240.0,782.2 243.0,783.7 246.0,785.1 249.0,786.5 252.0,787.8 255.0,789.2 258.0,790.5 261.0,791.8 264.0,793.1 267.0,794.3 270.0,795.5 273.0,796.7 276.0,797.9 279.0,799.1 282.0,800.2 285.0,801.3 288.0,802.4 291.0,803.5 294.0,804.6 297.0,805.6 300.0,806.6 303.0,807.6 306.0,808.6 309.0,809.6 312.0,810.6 315.0,811.5 318.0,812.4 321.0,813.3 324.0,814.2 327.0,815.1 330.0,815.9 333.0,816.8 336.0,817.6 339.0,818.4 342.0,819.2 345.0,820.0 348.0,820.8 351.0,821.5 354.0,822.3 357.0,823.0 360.0,823.7 363.0,824.4 366.0,825.1 369.0,825.8 372.0,826.5 375.0,827.2 378.0,827.8 381.0,828.4 384.0,829.1 387.0,829.7 390.0,830.3 393.0,830.9 396.0,831.5 399.0,832.0 402.0,832.6 405.0,833.2 408.0,833.7 411.0,834.3 414.0,834.8 417.0,835.3 420.0,835.8 423.0,836.3 426.0,836.8 429.0,837.3 432.0,837.8 435.0,838.3 438.0,838.7 441.0,839.2 444.0,839.6 447.0,840.1 447.9,840.2" fill="none" stroke="#223866" stroke-width="2.1" stroke-dasharray="4.6,3.2" stroke-linejoin="round" opacity="1"/>
<polyline points="87.9,650.3 96.0,655.5 100.6,659.5 105.0,672.0 108.0,674.5 111.0,677.1 114.0,679.6 117.0,682.1 120.0,684.6 123.0,687.0 126.0,689.3 129.0,691.7 132.0,694.0 135.0,696.3 138.0,698.5 141.0,700.7 144.0,702.9 147.0,705.0 150.0,707.2 153.0,709.2 156.0,711.3 159.0,713.3 162.0,715.3 165.0,717.3 168.0,719.2 171.0,721.1 174.0,723.0 177.0,724.9 180.0,726.7 183.0,728.5 186.0,730.3 189.0,732.0 192.0,733.8 195.0,735.5 198.0,737.1 201.0,738.8 204.0,740.4 207.0,742.0 210.0,743.6 213.0,745.2 216.0,746.7 219.0,748.2 222.0,749.7 225.0,751.2 228.0,752.6 231.0,754.1 234.0,755.5 237.0,756.9 240.0,758.3 243.0,759.6 246.0,761.0 249.0,762.3 252.0,763.6 255.0,764.9 258.0,766.1 261.0,767.4 264.0,768.6 267.0,769.8 270.0,771.0 273.0,772.2 276.0,773.3 279.0,774.5 282.0,775.6 285.0,776.7 288.0,777.8 291.0,778.9 294.0,780.0 297.0,781.0 300.0,782.1 303.0,783.1 306.0,784.1 309.0,785.1 312.0,786.1 315.0,787.0 318.0,788.0 321.0,788.9 324.0,789.9 327.0,790.8 330.0,791.7 333.0,792.6 336.0,793.5 339.0,794.3 342.0,795.2 345.0,796.0 348.0,796.9 351.0,797.7 354.0,798.5 357.0,799.3 360.0,800.1 363.0,800.9 366.0,801.7 369.0,802.4 372.0,803.2 375.0,803.9 378.0,804.7 381.0,805.4 384.0,806.1 387.0,806.8 390.0,807.5 393.0,808.2 396.0,808.8 399.0,809.5 402.0,810.2 405.0,810.8 408.0,811.5 411.0,812.1 414.0,812.7 417.0,813.3 420.0,814.0 423.0,814.6 426.0,815.1 429.0,815.7 432.0,816.3 435.0,816.9 438.0,817.5 441.0,818.0 444.0,818.6 447.0,819.1 447.9,819.3" fill="none" stroke="#980f32" stroke-width="2.1" stroke-dasharray="4.6,3.2" stroke-linejoin="round" opacity="1"/>
<polyline points="87.9,650.3 93.0,653.5 98.8,657.2 102.3,658.0 110.4,658.8 117.3,661.9 125.4,665.4 132.3,668.8 136.9,675.8 141.5,682.7 147.3,688.4 151.9,695.4 156.5,700.0 162.3,703.4 167.3,708.1 172.7,717.3 178.8,723.5 186.5,731.2 192.7,737.3 197.3,743.5 201.9,751.2 209.6,757.3 217.3,761.9 225.0,766.5 229.6,771.2 234.2,774.2 241.9,776.5 253.8,780.4 264.6,787.1 272.7,792.5 286.2,793.8 294.2,797.9 302.3,803.3 313.1,810.0 320.0,812.3 325.0,812.8 327.5,811.3 329.0,813.5 330.8,819.0 332.6,833.0 336.3,860.0" fill="none" stroke="#2b5646" stroke-width="2.1" stroke-dasharray="4.6,3.2" stroke-linejoin="round" opacity="1"/>
<polyline points="87.9,650.3 120.0,657.0 150.0,661.3 170.0,664.2 190.0,673.5 211.5,683.5 214.5,684.9 217.5,686.3 220.5,687.6 223.5,689.0 226.5,690.3 229.5,691.6 232.5,692.9 235.5,694.2 238.5,695.4 241.5,696.7 244.5,697.9 247.5,699.1 250.5,700.3 253.5,701.5 256.5,702.6 259.5,703.8 262.5,704.9 265.5,706.0 268.5,707.1 271.5,708.2 274.5,709.3 277.5,710.4 280.5,711.4 283.5,712.5 286.5,713.5 289.5,714.6 292.5,715.6 295.5,716.6 298.5,717.6 301.5,718.5 304.5,719.5 307.5,720.5 310.5,721.4 313.5,722.4 316.5,723.3 319.5,724.2 322.5,725.2 325.5,726.1 328.5,727.0 331.5,727.9 334.5,728.8 337.5,729.7 340.5,730.5 343.5,731.4 346.5,732.3 349.5,733.1 352.5,734.0 355.5,734.9 358.5,735.7 361.5,736.5 364.5,737.4 367.5,738.2 370.5,739.1 373.5,739.9 376.5,740.7 379.5,741.5 382.5,742.4 385.5,743.2 388.5,744.0 391.5,744.8 394.5,745.6 397.5,746.5 400.5,747.3 403.5,748.1 406.5,748.9 409.5,749.7 412.5,750.6 415.5,751.4 418.5,752.2 421.5,753.0 424.5,753.8 427.5,754.7 430.5,755.5 433.5,756.3 436.5,757.2 439.5,758.0 442.5,758.9 445.5,759.7 447.9,760.4" fill="none" stroke="#231430" stroke-width="2.1" stroke-dasharray="4.6,3.2" stroke-linejoin="round" opacity="1"/>
<text x="452" y="823.1" font-size="7.8" fill="#1a1a1a">ICER: &#36;407,000</text>
<text x="452" y="839.5" font-size="7.8" fill="#1a1a1a">ICER: &#36;263,000</text>
<text x="452" y="850" font-size="7.8" fill="#1a1a1a">ICER: &#36;214,000</text>
<text x="452" y="857.7" font-size="7.8" fill="#1a1a1a">ICER: &#36;189,000</text>
<line x1="63" y1="903.40" x2="78.6" y2="903.40" stroke="#2b5646" stroke-width="1.9" stroke-dasharray="4.2,1.5"/>
<text x="84.4" y="906.00" font-size="7.8" fill="#1a1a1a" style="stroke-width:0.1px">PFS: Goede et al 2015 ASH Update GChl</text>
<line x1="275.2" y1="903.40" x2="291.3" y2="903.40" stroke="#2d6a4c" stroke-width="1.9"/>
<text x="296.3" y="906.00" font-size="7.8" fill="#1a1a1a" style="stroke-width:0.1px">OS: Goede et al 2015 ASH Update GChl</text>
<line x1="63" y1="913.43" x2="78.6" y2="913.43" stroke="#d6c9d1" stroke-width="1.9" stroke-dasharray="4.2,1.5"/>
<text x="84.4" y="916.03" font-size="7.8" fill="#1a1a1a" style="stroke-width:0.1px">PFS: RESONATE-2 2017 JSH Update Ibrutinib</text>
<line x1="275.2" y1="913.43" x2="291.3" y2="913.43" stroke="#d6c9d1" stroke-width="1.9"/>
<text x="296.3" y="916.03" font-size="7.8" fill="#1a1a1a" style="stroke-width:0.1px">OS: RESONATE-2 2017 JSH Update Ibrutinib</text>
<line x1="63" y1="923.46" x2="78.6" y2="923.46" stroke="#5a9138" stroke-width="1.9" stroke-dasharray="4.2,1.5"/>
<text x="84.4" y="926.06" font-size="7.8" fill="#1a1a1a" style="stroke-width:0.1px">PFS: Modeled Comparator Base Case</text>
<line x1="275.2" y1="923.46" x2="291.3" y2="923.46" stroke="#5c9a3c" stroke-width="1.9"/>
<text x="296.3" y="926.06" font-size="7.8" fill="#1a1a1a" style="stroke-width:0.1px">OS: Modeled Comparator Base Case</text>
<line x1="63" y1="933.49" x2="80" y2="933.49" stroke="#980f32" stroke-width="1.9" stroke-dasharray="3.2,1.4"/>
<text x="84.4" y="936.09" font-size="7.8" fill="#1a1a1a" style="stroke-width:0.1px">PFS: Modeled Comparator with Progression HR 0.4</text>
<line x1="275.2" y1="933.49" x2="291.3" y2="933.49" stroke="#960c2e" stroke-width="1.9"/>
<text x="296.3" y="936.09" font-size="7.8" fill="#1a1a1a" style="stroke-width:0.1px">OS: Modeled Comparator with Progression HR 0.4</text>
<line x1="63" y1="943.52" x2="78.6" y2="943.52" stroke="#223866" stroke-width="1.9" stroke-dasharray="4.2,1.5"/>
<text x="84.4" y="946.12" font-size="7.8" fill="#1a1a1a" style="stroke-width:0.1px">PFS: Modeled Comparator with Progression HR 0.6</text>
<line x1="275.2" y1="943.52" x2="291.3" y2="943.52" stroke="#243a6c" stroke-width="1.9"/>
<text x="296.3" y="946.12" font-size="7.8" fill="#1a1a1a" style="stroke-width:0.1px">OS: Modeled Comparator with Progression HR 0.6</text>
<line x1="63" y1="953.55" x2="78.6" y2="953.55" stroke="#d8a53c" stroke-width="1.9" stroke-dasharray="4.2,1.5"/>
<text x="84.4" y="956.15" font-size="7.8" fill="#1a1a1a" style="stroke-width:0.1px">PFS: Modeled Comparator with Progression HR 0.8</text>
<line x1="275.2" y1="953.55" x2="291.3" y2="953.55" stroke="#dba53a" stroke-width="1.9"/>
<text x="296.3" y="956.15" font-size="7.8" fill="#1a1a1a" style="stroke-width:0.1px">OS: Modeled Comparator with Progression HR 0.8</text>
<line x1="63" y1="963.58" x2="78.6" y2="963.58" stroke="#231430" stroke-width="1.9" stroke-dasharray="4.2,1.5"/>
<text x="84.4" y="966.18" font-size="7.8" fill="#1a1a1a" style="stroke-width:0.1px">PFS: Modeled Ibrutinib Base Case</text>
<line x1="275.2" y1="963.58" x2="291.3" y2="963.58" stroke="#47225d" stroke-width="1.9"/>
<text x="296.3" y="966.18" font-size="7.8" fill="#1a1a1a" style="stroke-width:0.1px">OS: Modeled Ibrutinib Base Case</text>
</svg></body></html>
